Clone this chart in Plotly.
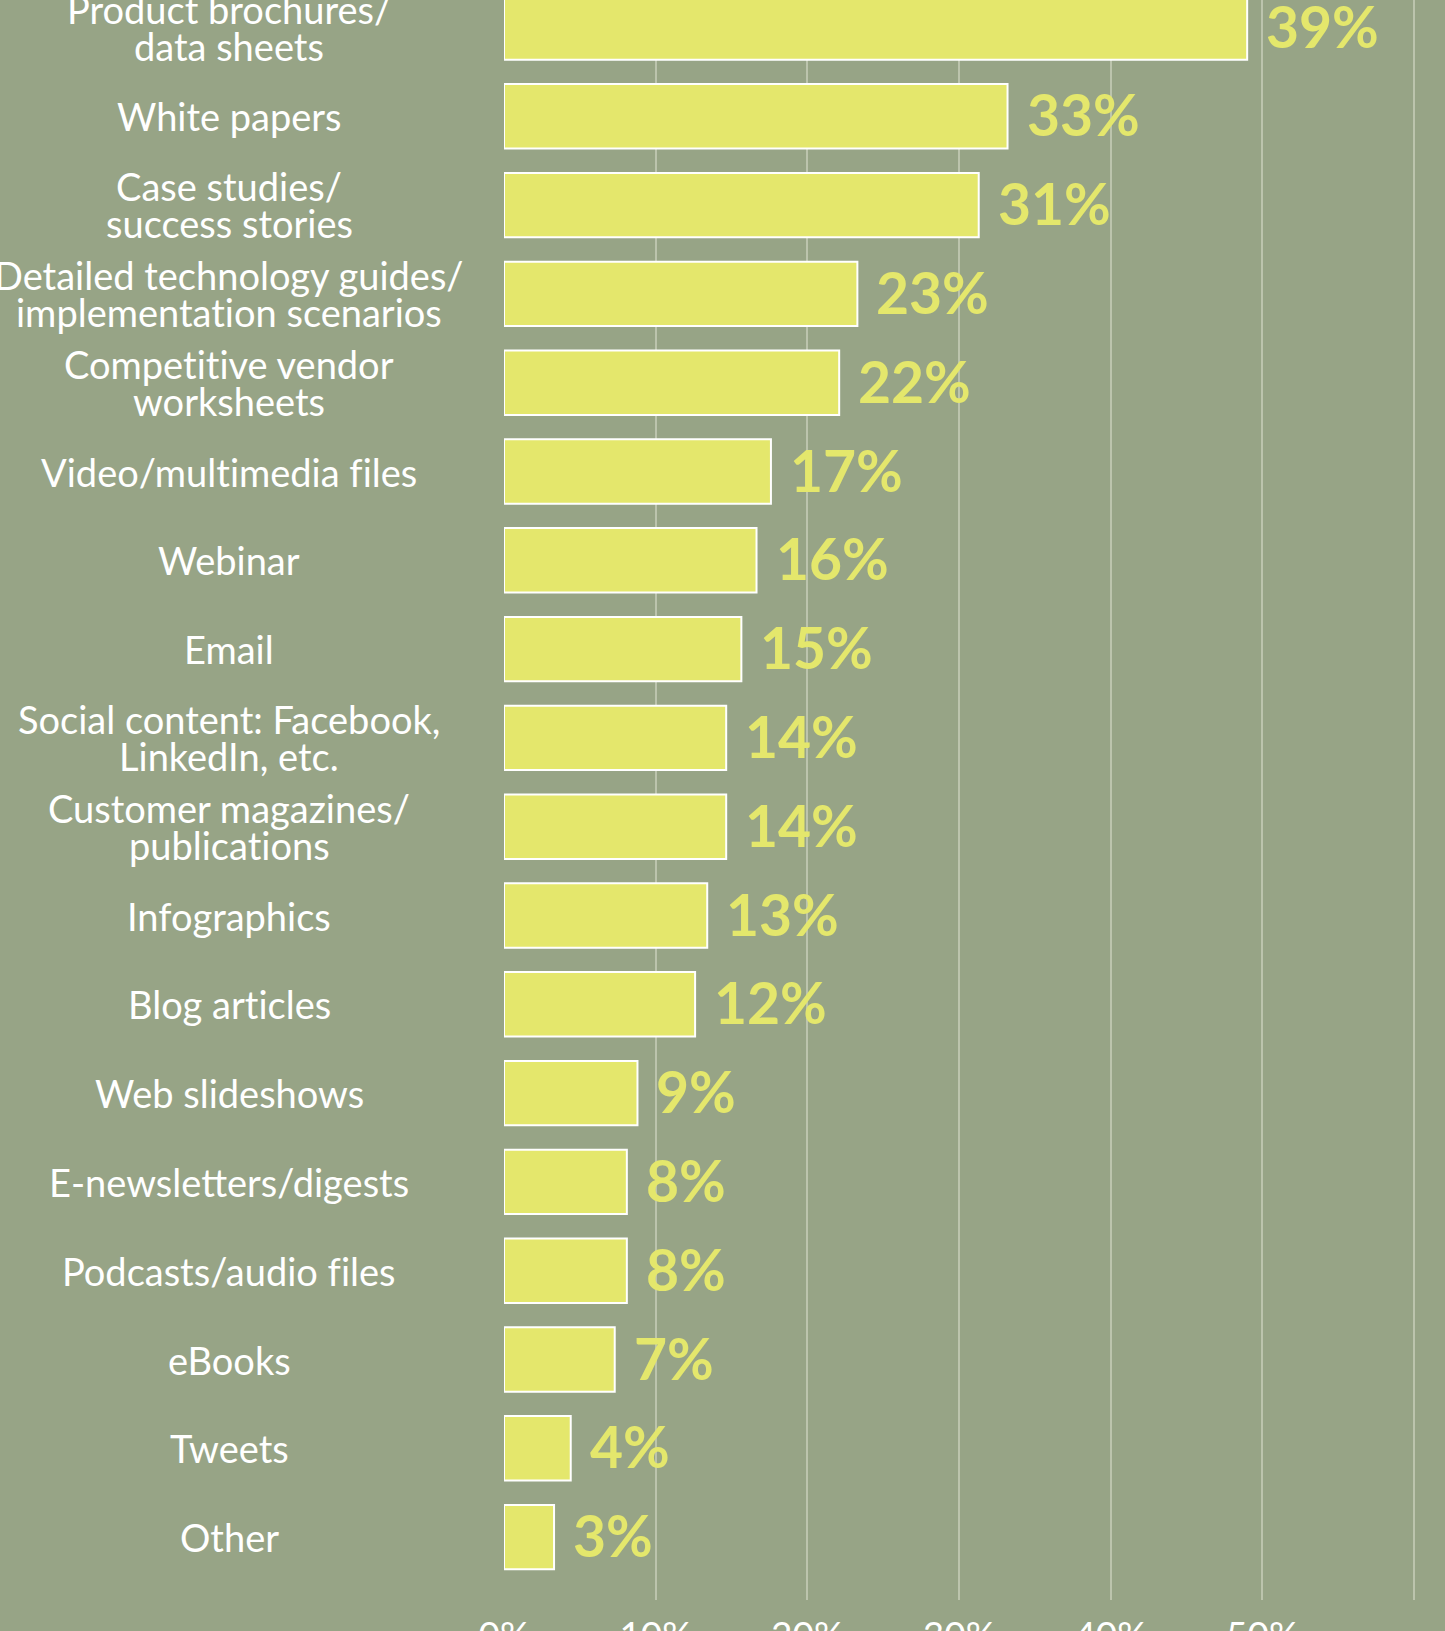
import plotly.graph_objects as go

categories = [
    "Product brochures/<br>data sheets",
    "White papers",
    "Case studies/<br>success stories",
    "Detailed technology guides/<br>implementation scenarios",
    "Competitive vendor<br>worksheets",
    "Video/multimedia files",
    "Webinar",
    "Email",
    "Social content: Facebook,<br>LinkedIn, etc.",
    "Customer magazines/<br>publications",
    "Infographics",
    "Blog articles",
    "Web slideshows",
    "E-newsletters/digests",
    "Podcasts/audio files",
    "eBooks",
    "Tweets",
    "Other",
]
values = [49.0, 33.2, 31.3, 23.3, 22.1, 17.6, 16.65, 15.65, 14.65, 14.65,
          13.4, 12.6, 8.8, 8.1, 8.1, 7.3, 4.4, 3.3]
value_labels = ["39%", "33%", "31%", "23%", "22%", "17%", "16%", "15%", "14%", "14%",
                "13%", "12%", "9%", "8%", "8%", "7%", "4%", "3%"]
x_ticks = [0, 10, 20, 30, 40, 50, 60]
x_tick_labels = ["0%", "10%", "20%", "30%", "40%", "50%", "60%"]

BG = "#97A486"
BAR = "#E4E76C"
GRID = "#BCC4AD"

W, H = 1445, 1631
ML, MB = 504, 31
x0_px, x60_px = 504, 1414
x_max = 60 * (W - ML) / (x60_px - x0_px)

pitch = 88.8
first_center = 27.5
plot_h = H - MB
y_top = -first_center / pitch
y_bot = (plot_h - first_center) / pitch


def no_lig(s):
    # keep letters separate (no "ti"/"fi" ligatures), as in the original
    return s.replace("ti", "t\u200ci").replace("fi", "f\u200ci")


fig = go.Figure()
fig.add_trace(go.Bar(
    x=values,
    y=categories,
    orientation="h",
    marker=dict(color=BAR, line=dict(color="white", width=2)),
    hoverinfo="skip",
))

annotations = []
for cat, v, lab in zip(categories, values, value_labels):
    annotations.append(dict(
        x=v, y=cat, xref="x", yref="y", text=lab, showarrow=False,
        xanchor="left", yanchor="middle", xshift=17, yshift=2,
        font=dict(family="Lato", size=57, color=BAR, weight="bold"),
    ))
    lines = cat.split("<br>")
    if len(lines) == 1:
        shifts = [0]
    else:
        shifts = [19, -18]
    for line, s in zip(lines, shifts):
        annotations.append(dict(
            x=(229 - ML) / (W - ML), y=cat, xref="paper", yref="y", text=no_lig(line),
            showarrow=False, xanchor="center", yanchor="middle", yshift=s,
            font=dict(family="Lato", size=38, color="white"),
        ))

fig.update_layout(
    width=W, height=H,
    margin=dict(l=ML, r=0, t=0, b=MB, pad=0, autoexpand=False),
    paper_bgcolor=BG, plot_bgcolor=BG,
    bargap=0.275,
    showlegend=False,
    annotations=annotations,
    xaxis=dict(
        range=[0, x_max], tickvals=x_ticks, ticktext=x_tick_labels,
        showgrid=True, gridcolor=GRID, gridwidth=2,
        zeroline=False, showline=False, ticks="",
        tickfont=dict(family="Lato", size=37, color="white"),
        ticklabelstandoff=10, automargin=False,
        fixedrange=True,
    ),
    yaxis=dict(
        type="category", categoryorder="array", categoryarray=categories,
        range=[y_bot, y_top], showticklabels=False, showgrid=False,
        zeroline=False, showline=False, ticks="", fixedrange=True,
        automargin=False,
    ),
)

fig.write_html(
    "out.html",
    config={"displayModeBar": False},
    post_script="document.body.style.margin='0';document.body.style.overflow='hidden';",
)
